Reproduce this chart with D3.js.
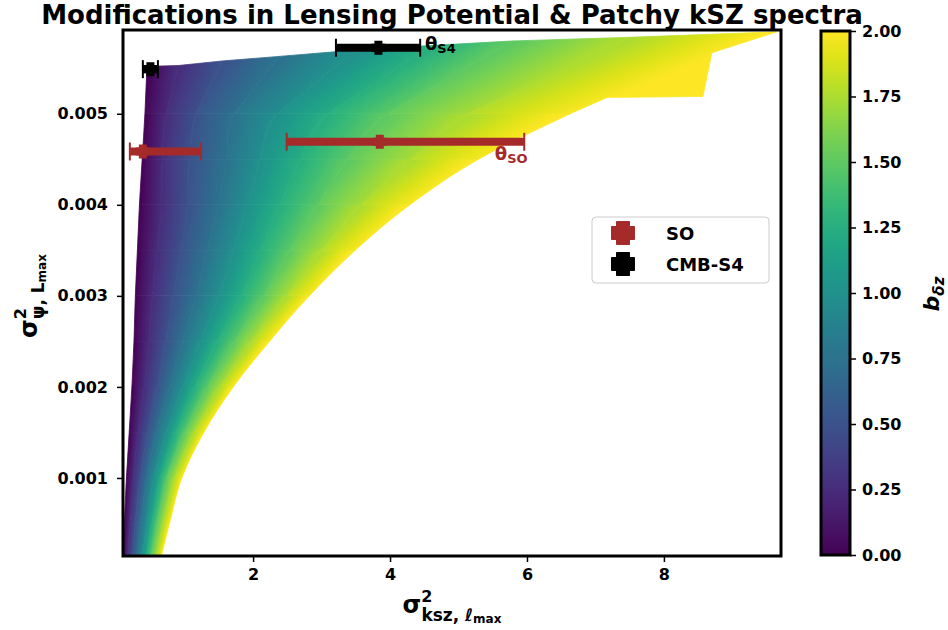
<!DOCTYPE html>
<html>
<head>
<meta charset="utf-8">
<script src="https://cdn.jsdelivr.net/npm/d3@7"></script>
<style>
  body { margin: 0; background: #fff; }
  text { font-family: "DejaVu Sans", sans-serif; font-weight: bold; }
</style>
</head>
<body>
<div id="chart"></div>
<script>
// colour levels of b_dz, one curve per level
const bLevels = [0, 0.25, 0.5, 0.75, 1, 1.25, 1.5, 1.75, 2];
const yRows = [0.00014, 0.0005, 0.001, 0.0015, 0.002, 0.0025, 0.003, 0.0035, 0.004, 0.0045, 0.005];
// x of every b-curve (columns follow bLevels) on each row of yRows
const xRows = [
  [0.10, 0.17, 0.24, 0.31, 0.38, 0.45, 0.51, 0.59, 0.66],
  [0.12, 0.20, 0.28, 0.36, 0.45, 0.52, 0.60, 0.69, 0.78],
  [0.15, 0.25, 0.35, 0.45, 0.55, 0.65, 0.74, 0.85, 0.96],
  [0.19, 0.32, 0.46, 0.59, 0.74, 0.87, 1.00, 1.14, 1.28],
  [0.23, 0.41, 0.60, 0.78, 0.97, 1.15, 1.33, 1.52, 1.71],
  [0.26, 0.48, 0.73, 0.97, 1.23, 1.48, 1.73, 1.98, 2.24],
  [0.28, 0.53, 0.84, 1.17, 1.50, 1.83, 2.16, 2.49, 2.82],
  [0.31, 0.60, 0.95, 1.33, 1.71, 2.11, 2.54, 3.00, 3.49],
  [0.34, 0.66, 1.05, 1.49, 1.92, 2.39, 2.95, 3.58, 4.29],
  [0.38, 0.67, 1.07, 1.61, 2.10, 2.69, 3.38, 4.31, 5.29],
  [0.42, 0.73, 1.17, 1.72, 2.35, 3.09, 3.96, 5.14, 6.63]
];
// where each curve ends on the upper edge
const topX = [0.45, 0.91, 1.55, 2.38, 3.5, 4.6, 5.8, 7.5, 9.65];
const topY = [0.00552, 0.00553, 0.00558, 0.00563, 0.00570, 0.00575, 0.00580, 0.00584, 0.00590];
// fold of the b=2 curve between its last row and its top point
const foldX = [7.17, 8.57, 8.70];
const foldY = [0.00518, 0.00519, 0.00567];

// experiments
const expNames = ["SO", "CMB-S4"];
const expColors = ["#a52a2a", "#000000"];
const barX  = [0.39, 3.85, 0.50, 3.83];
const barLo = [0.20, 2.49, 0.39, 3.21];
const barHi = [1.24, 5.96, 0.61, 4.44];
const barY  = [0.004586, 0.004692, 0.00549, 0.005725];
const barExp = [0, 0, 1, 1];
const thetaSub = ["SO", "S4"];
const thetaX = [5.53, 4.51];
const thetaY = [0.004492, 0.00570];

const xTicks = [2, 4, 6, 8];
const yTicks = [0.001, 0.002, 0.003, 0.004, 0.005];
const cbTicks = [0, 0.25, 0.5, 0.75, 1, 1.25, 1.5, 1.75, 2];

const width = 948, height = 630;
const L = 123, R = 781, T = 30, B = 556;

const svg = d3.select("#chart").append("svg")
  .attr("width", width).attr("height", height)
  .style("display", "block");
const defs = svg.append("defs");

const x = d3.scaleLinear().domain([0.1, 9.71]).range([L, R]);
const y = d3.scaleLinear().domain([0.000143, 0.00592]).range([B, T]);
const color = d3.scaleSequential(d3.interpolateViridis).domain([0, 2]);

defs.append("clipPath").attr("id", "plotclip")
  .append("rect").attr("x", L).attr("y", T).attr("width", R - L).attr("height", B - T);

svg.append("text")
  .attr("x", (L + R) / 2).attr("y", 24)
  .attr("text-anchor", "middle")
  .attr("font-size", 26)
  .text("Modifications in Lensing Potential & Patchy kSZ spectra");

// ---- filled region, one cell per band and row step ----
const gFill = svg.append("g").attr("clip-path", "url(#plotclip)");
let cellId = 0;
const last = bLevels.length - 1;

// points of every b-curve in pixels, rows then the next point above the last row
const curves = bLevels.map((b, i) => {
  let pts = yRows.map((yy, j) => [x(xRows[j][i]), y(yy)]);
  if (i === last) pts.push([x(foldX[0]), y(foldY[0])]);
  else pts.push([x(topX[i]), y(topY[i])]);
  return pts;
});
function topPt(i) { return [x(topX[i]), y(topY[i])]; }

// Catmull-Rom control points of a curve segment j -> j+1
function ctrl(pts, j) {
  let p0 = pts[Math.max(j - 1, 0)], p1 = pts[j], p2 = pts[j + 1], p3 = pts[Math.min(j + 2, pts.length - 1)];
  return [
    [p1[0] + (p2[0] - p0[0]) / 6, p1[1] + (p2[1] - p0[1]) / 6],
    [p2[0] - (p3[0] - p1[0]) / 6, p2[1] - (p3[1] - p1[1]) / 6]
  ];
}

function gradFor(L0, L1, R0, R1, b0, b1) {
  let dx = (L1[0] - L0[0]) + (R1[0] - R0[0]),
      dy = (L1[1] - L0[1]) + (R1[1] - R0[1]);
  let len = Math.hypot(dx, dy);
  let nx = -dy / len, ny = dx / len;
  let lm = [(L0[0] + L1[0]) / 2, (L0[1] + L1[1]) / 2],
      rm = [(R0[0] + R1[0]) / 2, (R0[1] + R1[1]) / 2];
  let d = (rm[0] - lm[0]) * nx + (rm[1] - lm[1]) * ny;
  let id = "c" + (cellId++);
  let grad = defs.append("linearGradient").attr("id", id)
    .attr("gradientUnits", "userSpaceOnUse")
    .attr("x1", lm[0]).attr("y1", lm[1])
    .attr("x2", lm[0] + nx * d).attr("y2", lm[1] + ny * d);
  [0, 0.25, 0.5, 0.75, 1].forEach(t => {
    grad.append("stop").attr("offset", t).attr("stop-color", color(b0 + (b1 - b0) * t));
  });
  return `url(#${id})`;
}

function drawCell(d, paint) {
  gFill.append("path")
    .attr("d", d)
    .attr("fill", paint)
    .attr("stroke", paint)
    .attr("stroke-width", 0.8)
    .attr("stroke-linejoin", "round");
}

const P = p => p[0] + "," + p[1];
for (let i = 0; i < last; i++) {
  let cl = curves[i], cr = curves[i + 1];
  for (let j = 0; j < yRows.length - 1; j++) {
    let [a1, a2] = ctrl(cl, j);
    let [b1, b2] = ctrl(cr, j);
    let d = `M${P(cl[j])}C${P(a1)} ${P(a2)} ${P(cl[j + 1])}L${P(cr[j + 1])}C${P(b2)} ${P(b1)} ${P(cr[j])}Z`;
    drawCell(d, gradFor(cl[j], cl[j + 1], cr[j], cr[j + 1], bLevels[i], bLevels[i + 1]));
  }
  let j = yRows.length - 1;
  let poly = [cl[j], topPt(i), topPt(i + 1)];
  if (i + 1 === last) {
    for (let k = foldX.length - 1; k >= 0; k--) poly.push([x(foldX[k]), y(foldY[k])]);
  }
  poly.push(cr[j]);
  drawCell("M" + poly.map(P).join("L") + "Z",
    gradFor(cl[j], topPt(i), cr[j], topPt(i + 1), bLevels[i], bLevels[i + 1]));
}

// ---- error bars ----
function plusPath(s, a) {
  let h = s / 2, w = a / 2;
  return `M${-w},${-h}H${w}V${-w}H${h}V${w}H${w}V${h}H${-w}V${w}H${-h}V${-w}H${-w}Z`;
}

const gBars = svg.append("g");
barX.forEach((bx, k) => {
  let c = expColors[barExp[k]];
  let yy = y(barY[k]);
  gBars.append("line")
    .attr("x1", x(barLo[k])).attr("x2", x(barHi[k]))
    .attr("y1", yy).attr("y2", yy)
    .attr("stroke", c).attr("stroke-width", 8);
  [barLo[k], barHi[k]].forEach(v => {
    gBars.append("line")
      .attr("x1", x(v)).attr("x2", x(v))
      .attr("y1", yy - 9).attr("y2", yy + 9)
      .attr("stroke", c).attr("stroke-width", 2);
  });
  gBars.append("path")
    .attr("transform", `translate(${x(bx)},${yy})`)
    .attr("d", plusPath(14, 8))
    .attr("fill", c);
});

thetaSub.forEach((s, k) => {
  let t = svg.append("text")
    .attr("x", x(thetaX[k])).attr("y", y(thetaY[k]))
    .attr("fill", expColors[k]);
  t.append("tspan").attr("font-size", 18).text("θ");
  t.append("tspan").attr("font-size", 13).attr("dy", 3).text(s);
});

// ---- axes ----
const xAxis = d3.axisBottom(x).tickValues(xTicks).tickFormat(d3.format("d")).tickSize(6).tickPadding(7);
const yAxis = d3.axisLeft(y).tickValues(yTicks).tickFormat(d3.format(".3f")).tickSize(6).tickPadding(9);

const xg = svg.append("g").attr("transform", `translate(0,${B})`).call(xAxis);
const yg = svg.append("g").attr("transform", `translate(${L},0)`).call(yAxis);
[xg, yg].forEach(g => {
  g.select(".domain").remove();
  g.selectAll(".tick line").attr("stroke", "#000").attr("stroke-width", 1.5);
  g.selectAll(".tick text").attr("font-size", 16).attr("fill", "#000")
    .attr("font-family", "DejaVu Sans").attr("font-weight", "bold");
});

svg.append("rect")
  .attr("x", L).attr("y", T).attr("width", R - L).attr("height", B - T)
  .attr("fill", "none").attr("stroke", "#000").attr("stroke-width", 3);

// x label
let xl = svg.append("text").attr("x", (L + R) / 2).attr("y", 613).attr("text-anchor", "middle");
xl.append("tspan").attr("font-size", 24).text("σ");
xl.append("tspan").attr("font-size", 16).attr("dy", -11).text("2");
xl.append("tspan").attr("font-size", 17).attr("dx", -11).attr("dy", 19).text("ksz, ");
xl.append("tspan").attr("font-size", 17).attr("font-style", "italic").text("ℓ");
xl.append("tspan").attr("font-size", 12).attr("dy", 2).text("max");

// y label
let yl = svg.append("text").attr("transform", "translate(37,296) rotate(-90)").attr("text-anchor", "middle");
yl.append("tspan").attr("font-size", 24).text("σ");
yl.append("tspan").attr("font-size", 16).attr("dy", -11).text("2");
yl.append("tspan").attr("font-size", 17).attr("dx", -11).attr("dy", 18).text("ψ, L");
yl.append("tspan").attr("font-size", 12).attr("dy", 2).text("max");

// ---- legend ----
const lg = svg.append("g");
lg.append("rect")
  .attr("x", 592).attr("y", 217).attr("width", 177).attr("height", 66).attr("rx", 4)
  .attr("fill", "#fff").attr("fill-opacity", 0.8)
  .attr("stroke", "#cccccc").attr("stroke-width", 1);
expNames.forEach((n, k) => {
  let yy = 233 + k * 31;
  lg.append("path").attr("transform", `translate(623,${yy})`)
    .attr("d", plusPath(23, 13)).attr("fill", expColors[k])
    .attr("stroke", expColors[k]).attr("stroke-width", 1).attr("stroke-linejoin", "round");
  lg.append("text").attr("x", 666).attr("y", yy + 7)
    .attr("font-size", 18).text(n);
});

// ---- colour bar ----
const cbL = 821, cbR = 850, cbT = 31, cbB = 555;
const cbScale = d3.scaleLinear().domain([0, 2]).range([cbB, cbT]);
const cbGrad = defs.append("linearGradient").attr("id", "cbgrad")
  .attr("x1", 0).attr("y1", 1).attr("x2", 0).attr("y2", 0);
d3.range(0, 1.0001, 0.05).forEach(t => {
  cbGrad.append("stop").attr("offset", t).attr("stop-color", d3.interpolateViridis(t));
});
svg.append("rect").attr("x", cbL).attr("y", cbT).attr("width", cbR - cbL).attr("height", cbB - cbT)
  .attr("fill", "url(#cbgrad)").attr("stroke", "#000").attr("stroke-width", 3);
const cbAxis = d3.axisRight(cbScale).tickValues(cbTicks).tickFormat(d3.format(".2f")).tickSize(6).tickPadding(6);
const cbg = svg.append("g").attr("transform", `translate(${cbR},0)`).call(cbAxis);
cbg.select(".domain").remove();
cbg.selectAll(".tick line").attr("stroke", "#000").attr("stroke-width", 1.5);
cbg.selectAll(".tick text").attr("font-size", 16).attr("fill", "#000")
  .attr("font-family", "DejaVu Sans").attr("font-weight", "bold");

let cbl = svg.append("text").attr("transform", "translate(939,294) rotate(-90)").attr("text-anchor", "middle")
  .attr("font-style", "italic");
cbl.append("tspan").attr("font-size", 22).text("b");
cbl.append("tspan").attr("font-size", 15).attr("dy", 5).text("δz");
</script>
</body>
</html>
